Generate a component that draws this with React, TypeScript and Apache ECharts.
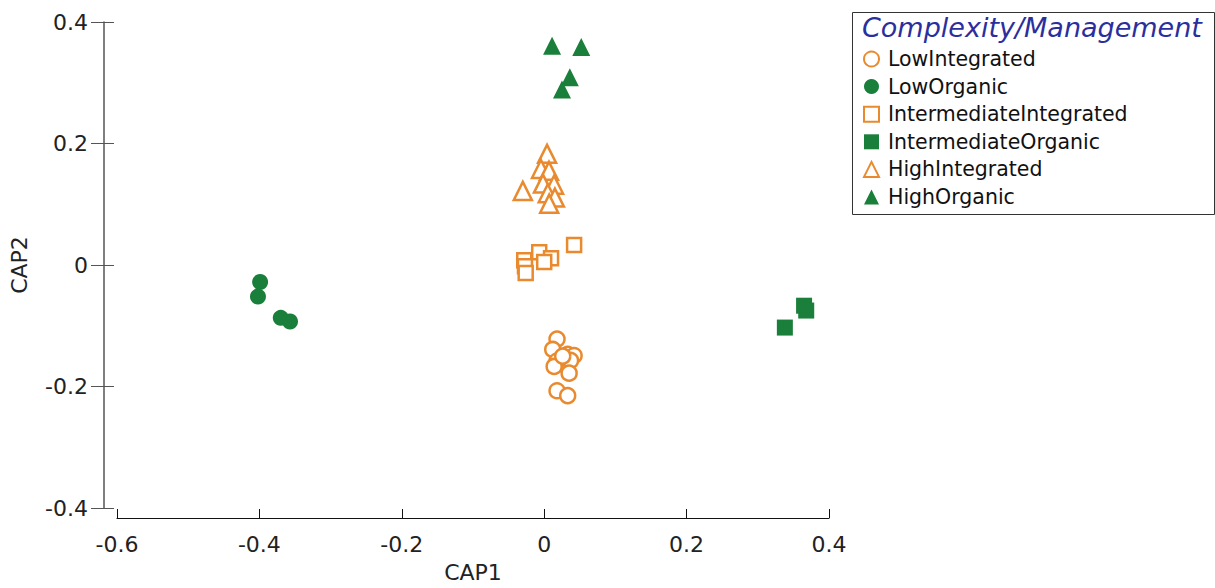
import React, { useEffect, useRef } from "react";
import * as echarts from "echarts";

const seriesNames = [
  "LowIntegrated",
  "LowOrganic",
  "IntermediateIntegrated",
  "IntermediateOrganic",
  "HighIntegrated",
  "HighOrganic",
];

const lowIntegrated: [number, number][] = [
  [0.018, -0.122], [0.012, -0.139], [0.033, -0.147], [0.042, -0.149],
  [0.018, -0.158], [0.037, -0.157], [0.014, -0.167], [0.035, -0.178],
  [0.018, -0.207], [0.033, -0.215], [0.026, -0.15],
];
const lowOrganic: [number, number][] = [
  [-0.399, -0.028], [-0.402, -0.052], [-0.37, -0.087], [-0.357, -0.093],
];
const intermediateIntegrated: [number, number][] = [
  [0.042, 0.033], [-0.007, 0.021], [0.0096, 0.011], [-0.028, 0.008],
  [-0.027, -0.002], [-0.026, -0.013], [0.0, 0.005],
];
const intermediateOrganic: [number, number][] = [
  [0.338, -0.103], [0.365, -0.067], [0.368, -0.075],
];
const highIntegrated: [number, number][] = [
  [0.004, 0.183], [-0.0045, 0.158], [0.0067, 0.155], [-0.0017, 0.134],
  [0.0138, 0.132], [-0.03, 0.122], [0.005, 0.118], [0.015, 0.111],
  [0.007, 0.101],
];
const highOrganic: [number, number][] = [
  [0.011, 0.361], [0.052, 0.359], [0.036, 0.309], [0.025, 0.289],
];

const ORANGE = "#E98A2E";
const GREEN = "#1A7F3A";
const FONT = "DejaVu Sans, sans-serif";

export default function App() {
  const ref = useRef<HTMLDivElement>(null);
  useEffect(() => {
    const chart = echarts.init(ref.current!, undefined, { renderer: "svg" });
    const hollow = (color: string) => ({
      color: "#ffffff",
      borderColor: color,
      borderWidth: 2.5,
      opacity: 1,
    });
    const filled = (color: string) => ({ color, borderWidth: 0, opacity: 1 });
    const mk = (name: string, data: [number, number][], symbol: string, size: number, style: any) => ({
      type: "scatter",
      name,
      data,
      symbol,
      symbolSize: size,
      itemStyle: style,
      xAxisIndex: 0,
      yAxisIndex: 0,
    });
    const fmt = (v: number) => (Math.abs(v) < 1e-9 ? "0" : String(+v.toFixed(1)));
    chart.setOption({
      animation: false,
      backgroundColor: "#ffffff",
      grid: { left: 117, top: 22, width: 712, height: 490, containLabel: false },
      xAxis: {
        type: "value",
        min: -0.6,
        max: 0.4,
        interval: 0.2,
        offset: 10,
        position: "bottom",
        name: "CAP1",
        nameLocation: "middle",
        nameGap: 43,
        nameTextStyle: { fontFamily: FONT, fontSize: 22, color: "#222" },
        axisLine: { show: true, onZero: false, lineStyle: { color: "#111", width: 1.2 } },
        axisTick: { show: true, inside: true, length: 9, lineStyle: { color: "#111" } },
        axisLabel: { fontFamily: FONT, fontSize: 22, color: "#222", margin: 15, formatter: fmt },
        splitLine: { show: false },
      },
      yAxis: [
        {
          type: "value",
          min: -0.4,
          max: 0.4,
          interval: 0.2,
          offset: 13,
          position: "left",
          name: "CAP2",
          nameLocation: "middle",
          nameRotate: 90,
          nameGap: 74,
          nameTextStyle: { fontFamily: FONT, fontSize: 22, color: "#222" },
          axisLine: { show: true, onZero: false, lineStyle: { color: "#555", width: 1.5 } },
          axisTick: { show: true, inside: false, length: 13, lineStyle: { color: "#555" } },
          axisLabel: { fontFamily: FONT, fontSize: 22, color: "#222", margin: 16, formatter: fmt },
          splitLine: { show: false },
        },
        {
          type: "value",
          min: -0.4,
          max: 0.4,
          interval: 0.2,
          offset: 13,
          position: "left",
          axisLine: { show: false, onZero: false },
          axisTick: { show: true, inside: true, length: 10, lineStyle: { color: "#555" } },
          axisLabel: { show: false },
          splitLine: { show: false },
        },
      ],
      legend: {
        orient: "vertical",
        left: 858,
        top: 43,
        itemWidth: 15,
        itemHeight: 15,
        itemGap: 5.6,
        textStyle: {
          fontFamily: FONT,
          fontSize: 20.5,
          lineHeight: 22,
          color: "#111",
          padding: [0, 0, 0, 4],
        },
        data: seriesNames,
      },
      graphic: [
        {
          type: "rect",
          left: 850,
          top: 10,
          shape: { width: 362, height: 202 },
          style: { fill: "none", stroke: "#333", lineWidth: 1 },
          z: 100,
        },
        {
          type: "text",
          left: 862,
          top: 14,
          style: {
            text: "Complexity/Management",
            fontFamily: FONT,
            fontStyle: "italic",
            fontSize: 27,
            fill: "#2B2F9E",
          },
          z: 100,
        },
      ],
      series: [
        mk(seriesNames[0], lowIntegrated, "circle", 15, hollow(ORANGE)),
        mk(seriesNames[1], lowOrganic, "circle", 16, filled(GREEN)),
        mk(seriesNames[2], intermediateIntegrated, "rect", 14, hollow(ORANGE)),
        mk(seriesNames[3], intermediateOrganic, "rect", 16, filled(GREEN)),
        mk(seriesNames[4], highIntegrated, "triangle", 18, hollow(ORANGE)),
        mk(seriesNames[5], highOrganic, "triangle", 18, filled(GREEN)),
      ],
    });
    return () => chart.dispose();
  }, []);
  return (
    <div
      ref={ref}
      style={{ position: "fixed", left: 0, top: 0, width: 1215, height: 588, background: "#fff" }}
    />
  );
}
